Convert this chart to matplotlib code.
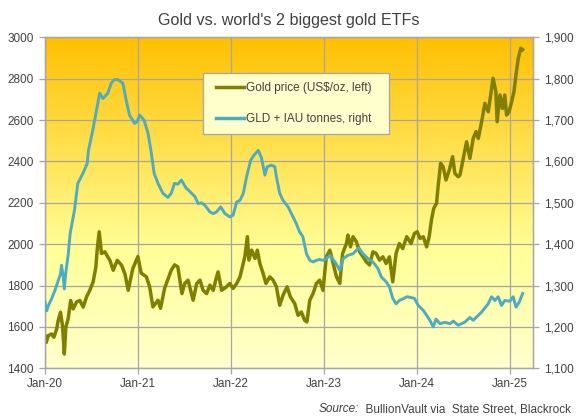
import matplotlib
matplotlib.use("Agg")
import matplotlib.pyplot as plt
import matplotlib.dates as mdates
import matplotlib.ticker as mticker
from matplotlib.colors import LinearSegmentedColormap
from matplotlib.patches import Rectangle
from matplotlib.lines import Line2D
import numpy as np
import pandas as pd

plt.rcParams['font.family'] = ['Liberation Sans', 'DejaVu Sans']

# ---------------- data ----------------
gold_dates = [
    "2020-01-02", "2020-01-07", "2020-01-15", "2020-01-28", "2020-02-06", "2020-02-17",
    "2020-02-23", "2020-03-03", "2020-03-11", "2020-03-18", "2020-03-24", "2020-04-02",
    "2020-04-12", "2020-04-22", "2020-05-05", "2020-05-18", "2020-05-31", "2020-06-13",
    "2020-06-26", "2020-07-09", "2020-07-20", "2020-07-25", "2020-08-02", "2020-08-11",
    "2020-08-24", "2020-09-13", "2020-09-26", "2020-10-12", "2020-10-29", "2020-11-11",
    "2020-11-24", "2020-12-12", "2021-01-01", "2021-01-14", "2021-02-03", "2021-02-16",
    "2021-03-01", "2021-03-21", "2021-03-31", "2021-04-16", "2021-05-12", "2021-05-25",
    "2021-06-07", "2021-06-23", "2021-07-04", "2021-07-17", "2021-08-06", "2021-08-20",
    "2021-09-02", "2021-09-14", "2021-09-28", "2021-10-11", "2021-10-24", "2021-11-06",
    "2021-11-12", "2021-11-26", "2021-12-15", "2021-12-28", "2022-01-10", "2022-01-24",
    "2022-02-06", "2022-02-19", "2022-02-25", "2022-03-07", "2022-03-13", "2022-03-24",
    "2022-04-06", "2022-04-15", "2022-04-25", "2022-05-08", "2022-05-19", "2022-06-03",
    "2022-06-16", "2022-06-29", "2022-07-12", "2022-07-25", "2022-08-10", "2022-08-23",
    "2022-09-09", "2022-09-22", "2022-10-05", "2022-10-18", "2022-10-27", "2022-11-07",
    "2022-11-20", "2022-12-03", "2022-12-16", "2022-12-29", "2023-01-11", "2023-01-25",
    "2023-02-07", "2023-02-20", "2023-03-05", "2023-03-16", "2023-03-31", "2023-04-06",
    "2023-04-16", "2023-04-26", "2023-05-09", "2023-05-22", "2023-06-04", "2023-06-17",
    "2023-06-30", "2023-07-13", "2023-07-26", "2023-08-08", "2023-08-21", "2023-09-03",
    "2023-09-16", "2023-09-29", "2023-10-12", "2023-10-25", "2023-11-07", "2023-11-23",
    "2023-12-10", "2023-12-23", "2024-01-03", "2024-01-14", "2024-01-27", "2024-02-09",
    "2024-02-19", "2024-02-28", "2024-03-08", "2024-03-19", "2024-03-25", "2024-04-04",
    "2024-04-14", "2024-04-25", "2024-05-08", "2024-05-21", "2024-05-30", "2024-06-12",
    "2024-06-19", "2024-07-02", "2024-07-15", "2024-07-28", "2024-08-10", "2024-08-21",
    "2024-08-30", "2024-09-12", "2024-09-25", "2024-10-08", "2024-10-21", "2024-10-27",
    "2024-11-07", "2024-11-12", "2024-11-23", "2024-12-03", "2024-12-12", "2024-12-19",
    "2024-12-29", "2025-01-08", "2025-01-17", "2025-01-25", "2025-02-03", "2025-02-13",
    "2025-02-20",
]
gold_price = [
    1555, 1525, 1558, 1566, 1550, 1590,
    1631, 1671, 1606, 1469, 1598, 1639,
    1728, 1687, 1720, 1728, 1696, 1744,
    1777, 1817, 1890, 1971, 2060, 1955,
    1963, 1922, 1874, 1922, 1898, 1857,
    1777, 1882, 1940, 1860, 1843, 1795,
    1697, 1729, 1690, 1787, 1874, 1900,
    1890, 1761, 1810, 1826, 1729, 1810,
    1826, 1777, 1761, 1802, 1777, 1842,
    1866, 1777, 1794, 1810, 1786, 1810,
    1842, 1907, 1939, 2036, 1923, 1971,
    1931, 1971, 1907, 1858, 1810, 1842,
    1826, 1794, 1705, 1753, 1794, 1745,
    1713, 1656, 1672, 1632, 1624, 1729,
    1761, 1810, 1826, 1777, 1939, 1971,
    1907, 1842, 1810, 1955, 2003, 2044,
    1987, 2036, 2012, 1963, 1939, 1915,
    1899, 1963, 1955, 1923, 1939, 1907,
    1939, 1818, 1955, 2003, 1979, 2036,
    2003, 2052, 2060, 2028, 2036, 1987,
    2036, 2117, 2173, 2197, 2278, 2391,
    2374, 2310, 2358, 2423, 2342, 2326,
    2334, 2415, 2495, 2415, 2511, 2544,
    2511, 2592, 2681, 2640, 2753, 2802,
    2737, 2592, 2721, 2656, 2721, 2624,
    2640, 2689, 2737, 2818, 2899, 2947,
    2940,
]

etf_dates = [
    "2020-01-02", "2020-01-09", "2020-01-15", "2020-01-28", "2020-02-10", "2020-02-23",
    "2020-03-03", "2020-03-07", "2020-03-14", "2020-03-18", "2020-03-24", "2020-04-02",
    "2020-04-10", "2020-04-27", "2020-05-10", "2020-05-30", "2020-06-16", "2020-06-21",
    "2020-07-08", "2020-07-25", "2020-08-04", "2020-08-17", "2020-09-05", "2020-09-18",
    "2020-09-29", "2020-10-14", "2020-11-03", "2020-11-16", "2020-11-29", "2020-12-19",
    "2020-12-29", "2021-01-08", "2021-01-25", "2021-02-10", "2021-02-23", "2021-03-06",
    "2021-03-21", "2021-04-09", "2021-04-29", "2021-05-12", "2021-05-25", "2021-06-07",
    "2021-06-21", "2021-07-10", "2021-07-18", "2021-07-31", "2021-08-13", "2021-08-26",
    "2021-09-08", "2021-09-21", "2021-10-11", "2021-10-24", "2021-11-06", "2021-11-22",
    "2021-12-09", "2021-12-28", "2022-01-10", "2022-01-24", "2022-02-06", "2022-02-19",
    "2022-03-04", "2022-03-20", "2022-04-02", "2022-04-19", "2022-05-02", "2022-05-15",
    "2022-05-24", "2022-06-10", "2022-06-23", "2022-06-29", "2022-07-12", "2022-07-25",
    "2022-08-14", "2022-09-02", "2022-09-15", "2022-09-28", "2022-10-11", "2022-10-25",
    "2022-11-07", "2022-11-20", "2022-12-03", "2022-12-16", "2022-12-29", "2023-01-11",
    "2023-01-25", "2023-02-14", "2023-03-05", "2023-03-18", "2023-04-06", "2023-04-26",
    "2023-05-19", "2023-06-04", "2023-06-24", "2023-07-13", "2023-08-02", "2023-08-15",
    "2023-09-03", "2023-09-16", "2023-09-29", "2023-10-12", "2023-10-25", "2023-11-12",
    "2023-11-23", "2023-12-10", "2023-12-23", "2024-01-07", "2024-01-27", "2024-02-09",
    "2024-02-22", "2024-03-06", "2024-03-17", "2024-04-01", "2024-04-21", "2024-05-11",
    "2024-05-24", "2024-06-12", "2024-07-09", "2024-07-28", "2024-08-10", "2024-08-23",
    "2024-09-12", "2024-09-25", "2024-10-08", "2024-10-21", "2024-11-03", "2024-11-16",
    "2024-11-29", "2024-12-12", "2025-01-01", "2025-01-14", "2025-01-25", "2025-02-07",
    "2025-02-20",
]
etf_tonnes = [
    1260, 1239, 1251, 1268, 1288, 1312,
    1328, 1349, 1320, 1292, 1332, 1373,
    1426, 1482, 1547, 1571, 1595, 1627,
    1676, 1732, 1765, 1752, 1765, 1789,
    1797, 1798, 1789, 1748, 1712, 1692,
    1696, 1712, 1700, 1668, 1619, 1571,
    1547, 1523, 1513, 1523, 1547, 1545,
    1555, 1535, 1531, 1523, 1515, 1498,
    1500, 1494, 1478, 1474, 1478, 1490,
    1474, 1466, 1470, 1502, 1506, 1523,
    1563, 1603, 1615, 1627, 1607, 1567,
    1587, 1591, 1587, 1563, 1523, 1506,
    1490, 1466, 1450, 1430, 1418, 1377,
    1361, 1357, 1361, 1363, 1361, 1365,
    1373, 1357, 1337, 1365, 1373, 1377,
    1391, 1377, 1365, 1357, 1341, 1321,
    1309, 1297, 1269, 1256, 1264, 1269,
    1273, 1271, 1269, 1252, 1240, 1228,
    1216, 1200, 1219, 1208, 1211, 1208,
    1214, 1204, 1212, 1223, 1216, 1224,
    1236, 1246, 1256, 1273, 1264, 1273,
    1252, 1264, 1262, 1273, 1248, 1260,
    1281,
]

title = "Gold vs. world's 2 biggest gold ETFs"
gold_label = "Gold price (US$/oz, left)"
etf_label = "GLD + IAU tonnes, right"
year_ticks = ["2020-01-01", "2021-01-01", "2022-01-01", "2023-01-01", "2024-01-01", "2025-01-01"]
left_ticks = [1400, 1600, 1800, 2000, 2200, 2400, 2600, 2800, 3000]
right_ticks = [1100, 1200, 1300, 1400, 1500, 1600, 1700, 1800, 1900]

# ---------------- styling ----------------
W, H = 576, 420
GOLD = "#7F7F00"
BLUE = "#4BACC6"
GRID = "#A6A6A6"
TXT = "#404040"
FS = 8.5

fig = plt.figure(figsize=(W / 100, H / 100), dpi=100)
fig.patch.set_facecolor("white")
L, R, B, T = 44.7, 533.3, 368.3, 37.3
ax = fig.add_axes([L / W, 1 - B / H, (R - L) / W, (B - T) / H])

# gradient background
cmap = LinearSegmentedColormap.from_list(
    "bg", [(0.0, "#FFC000"), (0.65, "#FFFF99"), (1.0, "#FFFFCC")])
grad = np.linspace(0, 1, 256).reshape(-1, 1)
ax.imshow(grad, cmap=cmap, aspect="auto", extent=[0, 1, 0, 1],
          transform=ax.transAxes, origin="upper", zorder=0, interpolation="bilinear")

gd = pd.to_datetime(gold_dates)
ed = pd.to_datetime(etf_dates)
ax.plot(gd, gold_price, color=GOLD, lw=2.5, solid_joinstyle="round", zorder=3)

ax.set_xlim(pd.Timestamp("2020-01-01"), pd.Timestamp("2025-04-03"))
ax.set_ylim(1400, 3000)
ax.set_yticks(left_ticks)
ax.set_xticks(pd.to_datetime(year_ticks))
ax.xaxis.set_major_formatter(mdates.DateFormatter("%b-%y"))
ax.grid(True, color=GRID, lw=0.9, zorder=1)
ax.set_axisbelow(True)

ax2 = ax.twinx()
ax2.plot(ed, etf_tonnes, color=BLUE, lw=2.1, solid_joinstyle="round", zorder=3)
ax2.set_ylim(1100, 1900)
ax2.set_yticks(right_ticks)
ax2.yaxis.set_major_formatter(mticker.FuncFormatter(lambda v, p: f"{int(v):,}"))
ax2.set_xlim(ax.get_xlim())

for a in (ax, ax2):
    for s in a.spines.values():
        s.set_color(GRID)
        s.set_linewidth(0.9)
    a.tick_params(axis="both", colors=GRID, labelcolor=TXT, labelsize=FS,
                  length=4, width=0.9, direction="out")
ax.tick_params(axis="y", pad=4)
ax2.tick_params(axis="y", pad=4)
ax.tick_params(axis="x", pad=3)

fig.text(289 / W, 1 - 20 / H, title, ha="center", va="center",
         fontsize=11.6, color=TXT)

# legend box
bx0, by0, bx1, by1 = 203.3, 72.7, 388.7, 134.0
fig.patches.append(Rectangle((bx0 / W, 1 - by1 / H), (bx1 - bx0) / W, (by1 - by0) / H,
                             transform=fig.transFigure, facecolor="#FFFFCC",
                             edgecolor=GRID, lw=0.9, zorder=5))
handles = [Line2D([], [], color=GOLD, lw=2.5), Line2D([], [], color=BLUE, lw=2.5)]
leg = fig.legend(handles, [gold_label, etf_label], loc="center left",
                 bbox_to_anchor=(216 / W, 1 - 103.5 / H), frameon=False,
                 fontsize=FS, labelcolor=TXT, handlelength=2.4, handletextpad=0.15,
                 labelspacing=1.55, borderpad=0, borderaxespad=0)
leg.set_zorder(6)

fig.text(570.7 / W, 1 - 409 / H, "Source:", ha="right", va="center", fontsize=FS,
         color=TXT, style="italic", alpha=0)  # placeholder measured below
src_rest = "  BullionVault via  State Street, Blackrock"
t2 = fig.text(570.7 / W, 1 - 409 / H, src_rest, ha="right", va="center",
              fontsize=FS, color=TXT)
fig.canvas.draw()
bb = t2.get_window_extent()
fig.texts[-2].remove()
fig.text(bb.x0 / (W), 1 - 409 / H, "Source:", ha="right", va="center", fontsize=FS,
         color=TXT, style="italic")

fig.savefig("out.png", dpi=100, facecolor="white")
